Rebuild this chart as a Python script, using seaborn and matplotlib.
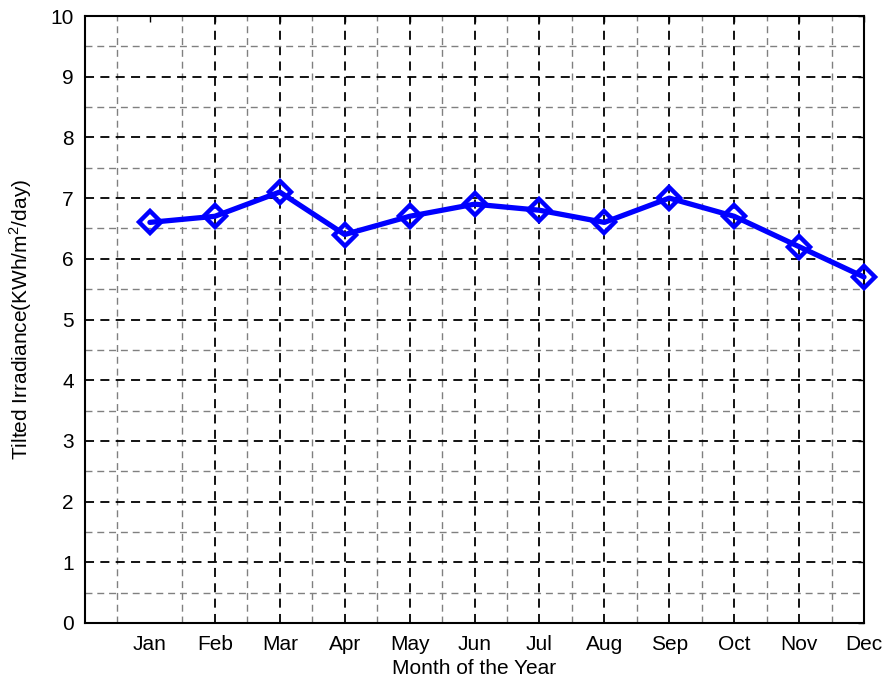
import matplotlib
matplotlib.use("Agg")
import matplotlib.pyplot as plt
import seaborn as sns
import numpy as np
import pandas as pd

months = ["Jan", "Feb", "Mar", "Apr", "May", "Jun", "Jul", "Aug", "Sep", "Oct", "Nov", "Dec"]
month_num = list(range(1, 13))
irradiance = [6.6, 6.7, 7.1, 6.4, 6.7, 6.9, 6.8, 6.6, 7.0, 6.7, 6.2, 5.7]

sns.set_theme(style="white")
plt.rcParams['font.family'] = ['Liberation Sans', 'DejaVu Sans']
plt.rcParams['mathtext.fontset'] = 'custom'
plt.rcParams['mathtext.rm'] = 'Liberation Sans'
plt.rcParams['text.color'] = 'black'
plt.rcParams['axes.labelcolor'] = 'black'
plt.rcParams['xtick.color'] = 'black'
plt.rcParams['ytick.color'] = 'black'

df = pd.DataFrame({"m": month_num, "v": irradiance})

fig = plt.figure(figsize=(8.88, 6.86), dpi=100)
ax = fig.add_axes([85/888, 63/686, (864-85)/888, (623-16)/686])

sns.lineplot(data=df, x="m", y="v", ax=ax, color=(0, 0, 1), lw=3.8,
             marker="D", markersize=11, markerfacecolor="none",
             markeredgecolor=(0, 0, 1), markeredgewidth=3.2, zorder=5)
for ln in ax.lines:
    ln.set_clip_on(False)

ax.set_xlim(0, 12)
ax.set_ylim(0, 10)
ax.set_xticks(month_num)
ax.set_xticklabels(months)
ax.set_xticks(np.arange(0.5, 12, 1.0), minor=True)
ax.set_yticks(np.arange(0, 11, 1))
ax.set_yticks(np.arange(0.5, 10, 1.0), minor=True)

ax.grid(which="major", color="black", linestyle=(0, (5, 3.5)), linewidth=1.3)
ax.grid(which="minor", color="#808080", linestyle=(0, (5, 3.5)), linewidth=1.0)
ax.xaxis.get_major_ticks()[0].gridline.set_visible(False)
ax.set_axisbelow(True)

ax.tick_params(which="both", direction="in", top=True, right=True, length=4,
               width=1, color="black", labelsize=15, labelcolor="black")
ax.tick_params(axis="x", which="major", pad=9)
ax.tick_params(axis="y", which="major", pad=8)
ax.tick_params(which="minor", length=0)
for s in ax.spines.values():
    s.set_color("black")
    s.set_linewidth(1.5)

ax.set_xlabel("Month of the Year", fontsize=15, labelpad=3, color="black")
ax.set_ylabel("Tilted Irradiance(KWh/m$^2$/day)", fontsize=15, labelpad=12, color="black")

fig.savefig("out.png", dpi=100)
